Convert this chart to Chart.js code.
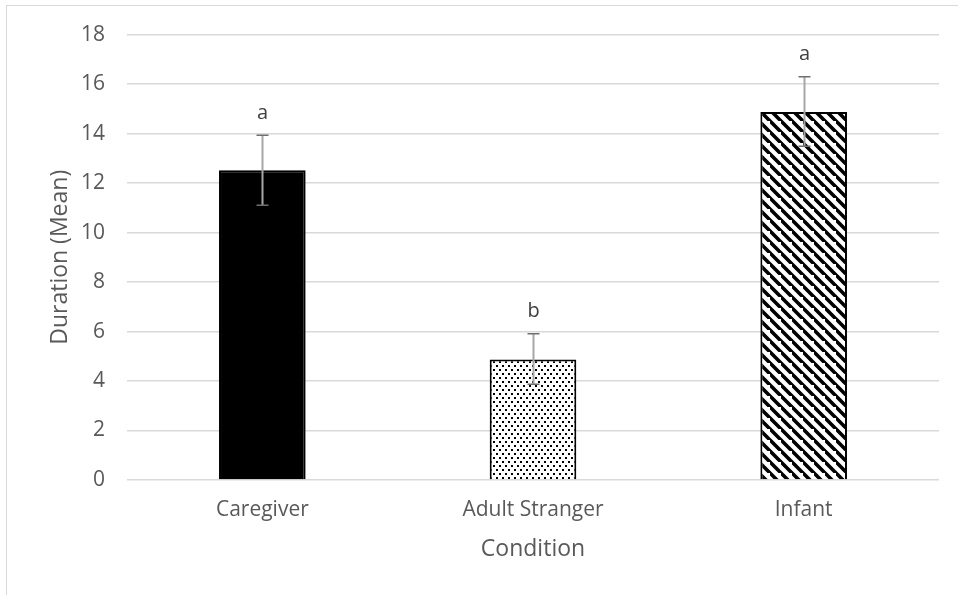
<!DOCTYPE html>
<html>
<head>
<meta charset="utf-8">
<script src="https://cdn.jsdelivr.net/npm/chart.js@4.4.0/dist/chart.umd.min.js"></script>
<style>
  html, body { margin: 0; padding: 0; background: #fff; }
  #wrap { position: relative; width: 958px; height: 595px; }
  #frame { position: absolute; left: 6px; top: 5px; right: 0; bottom: 0; border-left: 1px solid #d9d9d9; border-top: 1px solid #d9d9d9; }
  canvas { position: absolute; left: 0; top: 0; }
</style>
</head>
<body>
<div id="wrap">
  <div id="frame"></div>
  <canvas id="grafico" width="958" height="595"></canvas>
</div>
<script>
const categorias = ["Caregiver", "Adult Stranger", "Infant"];
const medias = [12.52, 4.87, 14.87];
const erroSup = [13.93, 5.91, 16.30];
const erroInf = [11.10, 3.87, 13.49];
const letras = ["a", "b", "a"];
const ticksY = [0, 2, 4, 6, 8, 10, 12, 14, 16, 18];

const corTexto = "#595959";
const fonte = "'Open Sans', sans-serif";

function padraoPontos() {
  const c = document.createElement("canvas");
  c.width = 6; c.height = 8;
  const g = c.getContext("2d");
  g.fillStyle = "#fff";
  g.fillRect(0, 0, 6, 8);
  g.fillStyle = "#000";
  g.fillRect(1, 1, 2, 2);
  g.fillRect(4, 5, 2, 2);
  return g.createPattern(c, "repeat");
}

function padraoListras() {
  const s = 11;
  const c = document.createElement("canvas");
  c.width = s; c.height = s;
  const g = c.getContext("2d");
  g.fillStyle = "#fff";
  g.fillRect(0, 0, s, s);
  g.strokeStyle = "#000";
  g.lineWidth = 3.6;
  g.beginPath();
  g.moveTo(-s, 0); g.lineTo(s * 2, s * 3);
  g.moveTo(-s, -s); g.lineTo(s * 2, s * 2);
  g.moveTo(-s * 2, -s); g.lineTo(s, s * 2);
  g.stroke();
  return g.createPattern(c, "repeat");
}

// barras de erro + letras de significância
const errosPlugin = {
  id: "erros",
  afterDatasetsDraw(chart) {
    const ctx = chart.ctx;
    const x = chart.scales.x;
    const y = chart.scales.y;
    ctx.save();
    categorias.forEach((cat, i) => {
      const px = Math.round(x.getPixelForValue(i)) + 0.5;
      const top = y.getPixelForValue(erroSup[i]);
      const bot = y.getPixelForValue(erroInf[i]);
      ctx.strokeStyle = "#a6a6a6";
      ctx.lineWidth = 2;
      ctx.beginPath();
      ctx.moveTo(px, top);
      ctx.lineTo(px, bot);
      ctx.stroke();
      ctx.strokeStyle = "#6f6f6f";
      ctx.lineWidth = 1.5;
      ctx.beginPath();
      ctx.moveTo(px - 6, top); ctx.lineTo(px + 6, top);
      ctx.moveTo(px - 6, bot); ctx.lineTo(px + 6, bot);
      ctx.stroke();

      ctx.fillStyle = "#404040";
      ctx.font = "20px " + fonte;
      ctx.textAlign = "center";
      ctx.textBaseline = "middle";
      ctx.fillText(letras[i], px, top - 22);
    });
    ctx.restore();
  }
};

const ctx = document.getElementById("grafico").getContext("2d");
new Chart(ctx, {
  type: "bar",
  data: {
    labels: categorias,
    datasets: [{
      data: medias,
      backgroundColor: ["#000000", padraoPontos(), padraoListras()],
      borderColor: "#000000",
      borderWidth: 2,
      borderSkipped: "bottom",
      barPercentage: 0.32,
      categoryPercentage: 1
    }]
  },
  options: {
    responsive: false,
    animation: false,
    devicePixelRatio: 1,
    layout: { padding: { top: 33, right: 19, left: 0, bottom: 0 } },
    plugins: {
      legend: { display: false },
      tooltip: { enabled: false }
    },
    scales: {
      x: {
        grid: { display: false, drawTicks: false },
        border: { display: false },
        ticks: { color: corTexto, font: { family: fonte, size: 21 }, padding: 17, maxRotation: 0 },
        title: { display: true, text: "Condition", color: corTexto, font: { family: fonte, size: 23 }, padding: { top: 0, bottom: 32 } },
        afterFit: s => { s.height = 115; }
      },
      y: {
        min: 0, max: 18,
        afterBuildTicks: s => { s.ticks = ticksY.map(v => ({ value: v })); },
        grid: { color: "#d9d9d9", lineWidth: 1.5, drawTicks: false },
        border: { display: false },
        ticks: { color: corTexto, font: { family: fonte, size: 21 }, padding: 22 },
        title: { display: true, text: "Duration (Mean)", color: corTexto, font: { family: fonte, size: 23 }, padding: { top: 47, bottom: 0 } },
        afterFit: s => { s.width = 127; }
      }
    }
  },
  plugins: [errosPlugin]
});
</script>
</body>
</html>
